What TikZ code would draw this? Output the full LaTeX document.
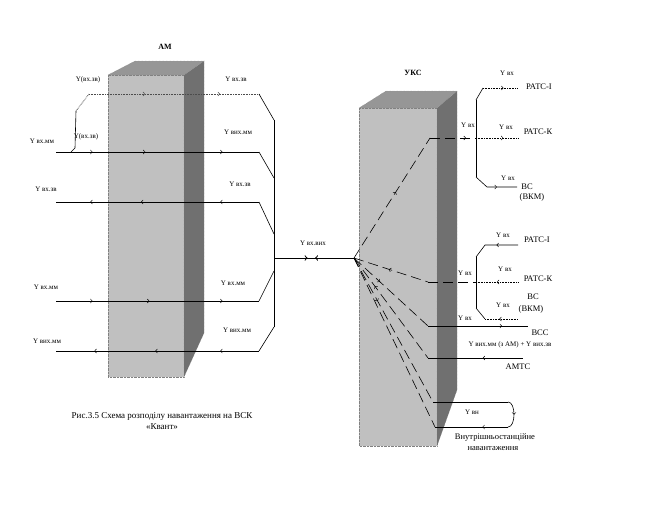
\documentclass[tikz,border=0pt]{standalone}
\usepackage{fontspec}
\setmainfont{Liberation Serif}
\usetikzlibrary{decorations.markings}
\definecolor{frontgray}{RGB}{192,192,192}
\definecolor{sidegray}{RGB}{112,112,112}
\definecolor{topgray}{RGB}{150,150,150}
\tikzset{
  lbl/.style={font=\fontsize{7}{8}\selectfont, inner sep=0pt},
  dest/.style={font=\fontsize{8.5}{9}\selectfont, inner sep=0pt},
  title/.style={font=\bfseries\fontsize{8}{9}\selectfont, inner sep=0pt},
  fw/.style={postaction={decorate,decoration={markings,mark=at position #1 with {\arrow{>}}}}},
  bw/.style={postaction={decorate,decoration={markings,mark=at position #1 with {\arrow{<}}}}},
  longdash/.style={dash pattern=on 10pt off 5pt},
  boxedge/.style={draw=gray, densely dotted, line width=.4pt},
}
\begin{document}
\begin{tikzpicture}[x=1pt,y=-1pt,line width=.6pt]
\useasboundingbox[fill=white] (0,0) rectangle (664,514);
% Draw the two blocks
% AM block
\filldraw[fill=frontgray, boxedge] (108,75) rectangle (184,377);
\filldraw[fill=sidegray, boxedge] (184,75) -- (204,61) -- (204,333) -- (184,377) -- cycle;
\filldraw[fill=topgray, boxedge] (108,75) -- (135,61) -- (204,61) -- (184,75) -- cycle;
\node[title] (am) at (165,47) {АМ};
% UKS block
\filldraw[fill=frontgray, boxedge] (359,108) rectangle (437,446);
\filldraw[fill=sidegray, boxedge] (437,108) -- (457,91) -- (457,390) -- (437,446) -- cycle;
\filldraw[fill=topgray, boxedge] (359,108) -- (386,91) -- (457,91) -- (437,108) -- cycle;
\node[title] (uks) at (413,73) {УКС};

% Make the end points of the lines through AM
% Label them with l1, r1, etc.
\foreach \n/\y in {1/152,2/202,3/301,4/351}
{
  \coordinate (l\n) at (56,\y);
  \coordinate (r\n) at (259,\y);
}
% Points on the bus on the right of AM
\coordinate (bt) at (274,120);
\coordinate (j1) at (274,178);
\coordinate (j2) at (274,234);
\coordinate (hub) at (274,258);
\coordinate (j3) at (274,271);
\coordinate (j4) at (274,327);
% The top (dotted) line
\coordinate (t1) at (89,94);
\coordinate (t2) at (259,94);
\coordinate (tj) at (71,152);
\coordinate (tk) at (75,148);
\coordinate (tl) at (76,111);

\draw[fw=.18,fw=.44,fw=.82] (l1) -- (r1);
\draw[bw=.18,bw=.43,bw=.82] (l2) -- (r2);
\draw[fw=.18,fw=.46,fw=.82] (l3) -- (r3);
\draw[bw=.2,bw=.5,bw=.82] (l4) -- (r4);
\draw (tj) -- (tk) -- (tl);
\draw[densely dotted] (tl) -- (t1);
\draw[densely dotted, draw=black!70, fw=.33, fw=.77] (t1) -- (t2);
\draw (t2) -- (bt);
\draw (r1) -- (j1);
\draw (r2) -- (j2);
\draw (r3) -- (j3);
\draw (r4) -- (j4);
\draw (bt) -- (j4);

% Labels of the AM lines
\node[lbl] (yt1) at (88,80) {Y(вх.зв)};
\node[lbl] (yt2) at (236,79) {Y вх.зв};
\node[lbl] (yl1) at (42,141) {Y вх.мм};
\node[lbl] (yl0) at (86,137) {Y(вх.зв)};
\node[lbl] (yr1) at (238,132) {Y вих.мм};
\node[lbl] (yl2) at (46,189) {Y вх.зв};
\node[lbl] (yr2) at (240,184) {Y вх.зв};
\node[lbl] (yl3) at (46,287) {Y вх.мм};
\node[lbl] (yr3) at (233,283) {Y вх.мм};
\node[lbl] (yl4) at (47,341) {Y вих.мм};
\node[lbl] (yr4) at (237,330) {Y вих.мм};

% The line from AM to UKS
\coordinate (fan) at (354,258);
\draw[line width=1pt, fw=.42, bw=.55] (hub) -- (fan);
\node[lbl] (yhub) at (313,243) {Y вх.вих};

% First group: lines to the exchanges (upper)
\coordinate (u1) at (430,138);
\coordinate (ub1) at (476,138);
\coordinate (ue1) at (518,138);
\coordinate (ua) at (476,100);
\coordinate (uat) at (483,88);
\coordinate (ue0) at (517,88);
\coordinate (ub) at (476,177);
\coordinate (ubt) at (487,187);
\coordinate (ue2) at (517,187);
\draw[longdash, fw=.55] (fan) -- (u1);
\draw[longdash, fw=.78] (u1) -- (ub1);
\draw[densely dotted, fw=.65] (ub1) -- (ue1);
\draw (ua) -- (ub);
\draw (ua) -- (uat);
\draw[densely dotted, fw=.6] (uat) -- (ue0);
\draw[fw=.55] (ub) -- (ubt) -- (ue2);
\node[dest] (ratc1) at (539,87) {РАТС-І};
\node[dest] (ratck) at (538,132) {РАТС-К};
\node[dest] (vs1) at (527,187) {ВС};
\node[dest] (vkm1) at (532,197) {(ВКМ)};
\node[lbl] (yu0) at (507,73) {Y вх};
\node[lbl] (yu1) at (468,125) {Y вх};
\node[lbl] (yu2) at (506,127) {Y вх};
\node[lbl] (yu3) at (508,178) {Y вх};

% Second group: lines from the exchanges (lower)
\coordinate (v1) at (428,282);
\coordinate (vb1) at (476,282);
\coordinate (ve1) at (518,282);
\coordinate (va) at (476,257);
\coordinate (vat) at (485,245);
\coordinate (ve0) at (518,245);
\coordinate (vb) at (476,308);
\coordinate (vbt) at (485,319);
\coordinate (ve2) at (518,319);
\draw[longdash, bw=.5] (fan) -- (v1);
\draw[longdash] (v1) -- (vb1);
\draw[densely dotted, bw=.55] (vb1) -- (ve1);
\draw (va) -- (vb);
\draw[bw=.6] (va) -- (vat) -- (ve0);
\draw (vb) -- (vbt);
\draw[densely dotted, bw=.5] (vbt) -- (ve2);
\node[dest] (ratc2) at (537,240) {РАТС-І};
\node[dest] (ratck2) at (538,279) {РАТС-К};
\node[dest] (vs2) at (533,297) {ВС};
\node[dest] (vkm2) at (531,309) {(ВКМ)};
\node[lbl] (yv0) at (503,235) {Y вх};
\node[lbl] (yv1) at (465,273) {Y вх};
\node[lbl] (yv2) at (505,269) {Y вх};
\node[lbl] (yv3) at (503,305) {Y вх};
\node[lbl] (yv4) at (465,318) {Y вх};

% Lines to VSS and AMTS
\coordinate (c2) at (428,326);
\coordinate (e2) at (528,326);
\coordinate (c3) at (428,358);
\coordinate (e3) at (523,358);
\draw[longdash, fw=.35] (fan) -- (c2);
\draw[fw=.74] (c2) -- (e2);
\draw[longdash, bw=.3] (fan) -- (c3);
\draw[bw=.6] (c3) -- (e3);
\node[dest] (vss) at (540,333) {ВСС};
\node[lbl] (yvss) at (510,345) {Y вих.мм (з АМ) + Y вих.зв};
\node[dest] (amtc) at (518,367) {АМТС};

% Internal load: the loop
\coordinate (c4) at (433,402);
\coordinate (k1) at (508,402);
\coordinate (k2) at (508,427);
\coordinate (c5) at (435,427);
\draw[longdash, fw=.3] (fan) -- (c4);
\draw[longdash] (fan) -- (c5);
\draw (c4) -- (k1);
\draw[fw=.5] (k1) .. controls (516,402) and (516,427) .. (k2);
\draw[fw=.35] (k2) -- (c5);
\node[lbl] (yvn) at (472,412) {Y вн};
\node[dest] (vnutr) at (495,438) {Внутрішньостанційне};
\node[dest] (navant) at (493,449) {навантаження};

% Caption
\node[font=\fontsize{9}{11}\selectfont, align=center] (caption) at (162,421)
  {Рис.3.5 Схема розподілу навантаження на ВСК\\«Квант»};
\end{tikzpicture}
\end{document}
